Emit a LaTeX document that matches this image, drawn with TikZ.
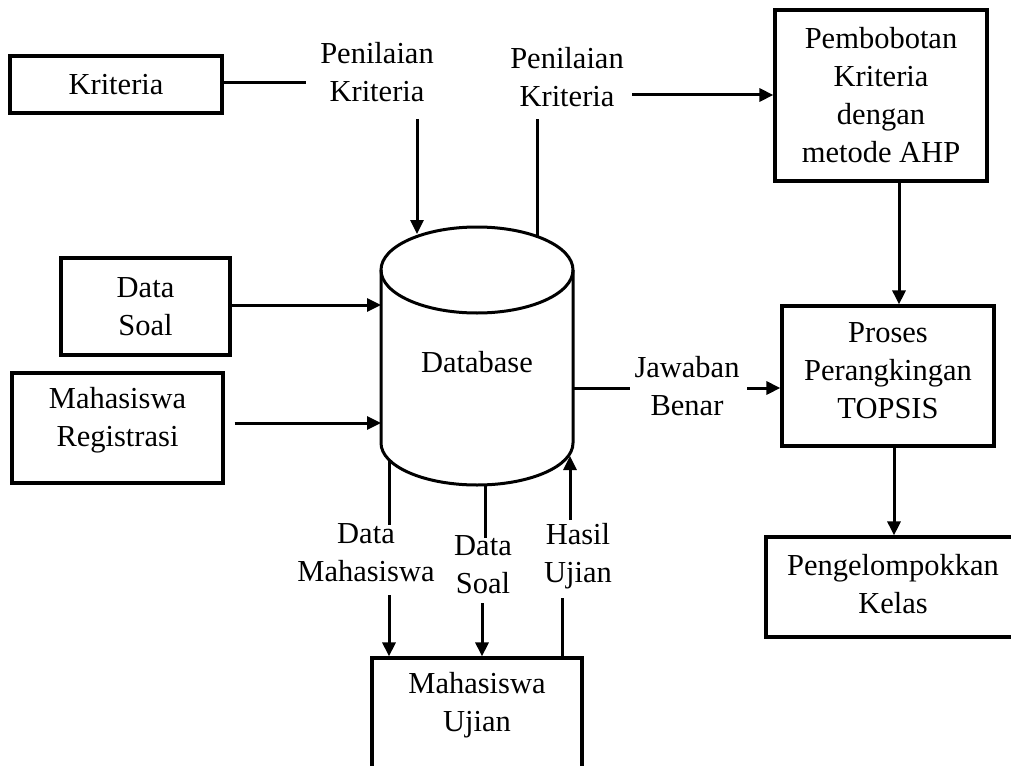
\documentclass[tikz,border=0pt]{standalone}
\usepackage{fontspec}
\setmainfont{Liberation Serif}
\usetikzlibrary{arrows.meta,calc}
\begin{document}
\begin{tikzpicture}[x=1pt,y=-1pt,
  every node/.style={font=\fontsize{30.5}{38}\selectfont, align=center, inner sep=0pt},
  box/.style={draw, line width=3.2pt},
  flow/.style={line width=3pt},
  arr/.style={flow, -{Triangle[length=14pt,width=13pt]}}]
\useasboundingbox (0,0) rectangle (1011,765);
\clip (0,0) rectangle (1011,765);

% ---- database cylinder ----
\draw[flow] (477,270) ellipse [x radius=96, y radius=43];
\draw[flow] (381,270) -- (381,443) arc[start angle=180, end angle=0, x radius=96, y radius=42] -- (573,270);
\node (db) at (477,362) {Database};

% ---- boxes ----
\node[box, minimum width=212pt, minimum height=57pt] (krit) at (116,84.5) {Kriteria};
\node[box, minimum width=212pt, minimum height=171pt] (ahp) at (881,95.5) {Pembobotan\\Kriteria\\dengan\\metode AHP};
\node[box, minimum width=212pt, minimum height=140pt] (topsis) at (888,376) {};
\node (topsisT) at (888,371) {Proses\\Perangkingan\\TOPSIS};
\node[box, minimum width=254pt, minimum height=100pt] (kelas) at (893,587) {};
\node (kelasT) at (893,584) {Pengelompokkan\\Kelas};
\node[box, minimum width=169pt, minimum height=97pt] (ds) at (145.5,306.5) {Data\\Soal};
\node[box, minimum width=211pt, minimum height=110pt] (mr) at (117.5,428) {};
\node (mrT) at (117.5,420) {Mahasiswa\\Registrasi};
\node[box, minimum width=210pt, minimum height=150pt] (mu) at (477,733) {};
\node (muT) at (477,705) {Mahasiswa\\Ujian};

% ---- flow labels ----
\node (pk1) at (377,72) {Penilaian\\Kriteria};
\node (pk2) at (567,77) {Penilaian\\Kriteria};
\node (jb) at (687,386) {Jawaban\\Benar};
\node (dm) at (366,553) {Data\\Mahasiswa};
\node (dsl) at (483,565) {Data\\Soal};
\node (hu) at (578,556) {Hasil\\Ujian};

% ---- connector end points ----
\coordinate (kEnd) at (306,83);
\coordinate (pk1a) at (417,119);
\coordinate (dbIn1) at (417,234);
\coordinate (dbOut1) at (537,237);
\coordinate (pk2b) at (537,119);
\coordinate (pk2c) at (632,95);
\coordinate (dbIn2) at (381,305);
\coordinate (dbIn3) at (381,423);
\coordinate (dbOut2) at (573,388);
\coordinate (jbA) at (630,388);
\coordinate (jbB) at (747,388);
\coordinate (dbOut3) at (389,460);
\coordinate (dm1) at (389,525);
\coordinate (dm2) at (389,595);
\coordinate (dbOut4) at (485,485);
\coordinate (dsl1) at (485,538);
\coordinate (dsl2) at (482,603);
\coordinate (hu1) at (562,598);
\coordinate (hu2) at (570,520);
\coordinate (dbIn4) at (570,456);

% ---- connectors ----
\draw[flow] (krit.east |- kEnd) -- (kEnd);
\draw[arr] (pk1a) -- (dbIn1);
\draw[flow] (dbOut1) -- (pk2b);
\draw[arr] (pk2c) -- (pk2c -| ahp.west);
\draw[arr] ([xshift=18pt]ahp.south) -- ([xshift=18pt]ahp.south |- topsis.north);
\draw[arr] ([xshift=6pt]topsis.south) -- ([xshift=6pt]topsis.south |- kelas.north);
\draw[arr] (ds.east |- dbIn2) -- (dbIn2);
\draw[arr] ([xshift=10pt]mr.east |- dbIn3) -- (dbIn3);
\draw[flow] (dbOut2) -- (jbA);
\draw[arr] (jbB) -- (jbB -| topsis.west);
\draw[flow] (dbOut3) -- (dm1);
\draw[arr] (dm2) -- (dm2 |- mu.north);
\draw[flow] (dbOut4) -- (dsl1);
\draw[arr] (dsl2) -- (dsl2 |- mu.north);
\draw[flow] (hu1 |- mu.north) -- (hu1);
\draw[arr] (hu2) -- (dbIn4);
\end{tikzpicture}
\end{document}
